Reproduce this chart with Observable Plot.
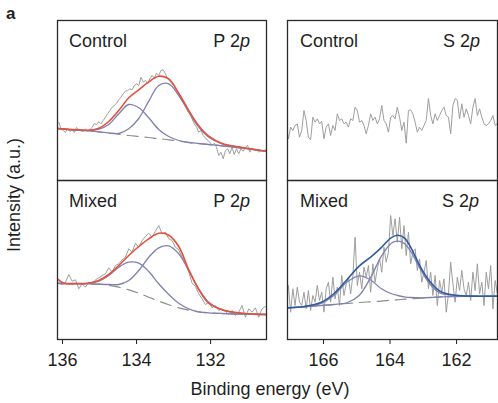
<!DOCTYPE html>
<html><head><meta charset="utf-8">
<script src="https://cdn.jsdelivr.net/npm/d3@7"></script>
<script src="https://cdn.jsdelivr.net/npm/@observablehq/plot@0.6"></script>
<style>
html,body{margin:0;padding:0;background:#fff;}
#fig{position:relative;width:498px;height:403px;overflow:hidden;}
#fig > svg{position:absolute;}
</style></head><body><div id="fig"></div>
<script>
// ---------- P 2p (left column) ----------
const pDomain = [136.135, 130.49];
const pTicks = [136, 134, 132];
// Control P 2p raw spectrum: start energy, step (eV), intensities (a.u.)
const pCtrlStart = 136.10, pCtrlStep = 0.06;
const pCtrlRaw = [58,52,50,48,52,49,51,48,53,51,49.5,49,51.7,49.3,51,53,57,56,59,56.7,
  60,63.3,66.7,70,73.3,75,77.3,80.7,83.3,86.7,89.3,90,91.7,90.7,95,96.7,95,103.3,98.3,100,
  96.7,101.7,105,102.7,107.3,105,110,110.7,106.7,101.7,99.3,96.7,94,90,86.7,83.3,78.3,76.7,70,66.7,
  61.7,56.7,53.3,48.3,50,45,42.7,40,38.3,35,37.3,33.3,25,28.3,21.7,30,31.7,26.7,33.3,26,
  31.7,26.7,31.7,29.3,33.3,35,28.3,32.7,30,30.7,28.3,30,29.3,30.7];
// Control P 2p fit
const pCtrlFitE = [136.19,135.74,135.29,135.02,134.75,134.48,134.21,133.94,133.67,133.40,133.13,132.86,132.59,132.32,132.05,131.69,131.14,130.51];
const pCtrlBg   = [52.3,50.7,49.7,48.7,47.3,46.3,45,44,43,41.7,40.7,39.3,38,37,36,34.7,32.3,29.3];
const pCtrlC1   = [52.3,50.7,50,51.3,56,66.7,76,72.7,62.7,51,44,40,38,37,36,34.7,32.3,29.3];
const pCtrlC2   = [52.3,50.7,49.7,48.7,47.7,47,51.7,62,79.3,95,96.7,85,68.3,53.3,43.3,36.7,32.7,29.3];
const pCtrlEnv  = [52.3,51,50.3,52.3,59,70,82.7,90.7,98.7,104.3,101.7,87.3,70,54.7,44.3,37,33,29.3];

// Mixed P 2p raw spectrum
const pMixStart = 136.10, pMixStep = 0.09;
const pMixRaw = [56.3,55,57.3,65,58.3,59.7,50.7,55.7,52.3,57.3,55,59.7,61.7,64,65.7,71.7,67.3,74,75.7,79.7,
  82.3,90.7,87.3,96.3,92.3,99,103,106.3,102.3,108.3,114,105.7,107.3,100.7,99,92.3,89.7,82.3,75.7,67.3,
  56.3,53,45.7,40.7,35,37.3,31.7,34,29,30.7,28.3,25,29,24,27.3,34,22.3,30.7,27.3,31.7,22.3,30.7,33];
// Mixed P 2p fit
const pMixFitE = [136.19,135.96,135.65,135.29,135.02,134.75,134.48,134.21,133.94,133.67,133.40,133.13,132.86,132.59,132.32,132.05,131.69,131.14,130.51];
const pMixBg   = [56.3,56,56,55.7,55.3,54.3,52.3,49.7,46.3,42.3,38.3,34.7,31.7,29.3,27.7,26.7,26,25.3,25];
const pMixC1   = [56.3,56,56,56.3,58.3,64,72.3,77.3,76.3,68,55.7,45,36.3,30.7,27.7,26.7,26,25.3,25];
const pMixC2   = [56.3,56,56,55.7,55.3,55,55,59,69,82.3,91.7,93.7,85.7,69,50.7,37.3,29.7,26,25];
const pMixEnv  = [62.3,56.3,55.7,56.3,59,65,74,84,93,100.7,106.3,104.3,93,69.7,50,36.3,29.7,26.3,25];

// ---------- S 2p (right column) ----------
const sDomain = [167.08, 160.77];
const sTicks = [166, 164, 162];
const sStart = 167.12, sStep = 0.0668;
const sCtrlRaw = [56.7,41.7,53.3,50,55,56.7,43.3,50,70,60,
  43.3,40.7,63.3,58.3,61.7,56.7,59.3,41.7,53.3,56.7,
  45,55,50,66.7,60,61.7,56.7,58.3,53.3,61.7,
  60,73.3,70,58.3,60,55,46.7,55,66.7,60,
  63.3,56.7,61.7,75,60,56.7,48.3,63.3,65,61.7,
  73.3,63.3,50,58.3,37.3,70,70.7,66.7,58.3,48.3,
  53.3,50,55,60,82,65,56.7,66.7,60,65,
  70,73.3,65,63.3,46.7,75,82,80,61.7,76.7,
  63.3,71.7,65,56.7,73.3,82,65,71.7,63.3,56.7,
  55,56.7,60,65,55,57];
const sMixRaw = [34,54,27.3,50.7,34,52.3,37.3,34,47.3,30.7,
  49,29,44,37.3,54,39,47.3,27.3,50.7,57.3,
  37.3,62.3,40.7,52.3,34,64,44,55.7,62.3,45.7,
  64,102.3,54,67.3,50.7,72.3,62.3,74,47.3,75.7,
  57.3,70.7,80.7,67.3,92.3,77.3,87.3,124,104,120.7,
  97.3,122.3,90.7,114,84,107.3,75.7,87.3,90.7,69,
  80.7,57.3,67.3,79,50.7,67.3,44,64,34,59,
  47.3,60.7,27.3,45.7,77.3,55.7,37.3,62.3,49,69,
  50.7,44,57.3,39,67.3,49,75.7,45.7,57.3,34,
  67.3,50.7,74,30.7,59,45.7];
const sMixFitE = [167.08,166.58,166.08,165.68,165.28,164.92,164.57,164.27,163.97,163.77,163.57,163.37,163.07,162.77,162.47,162.07,161.47,160.76];
const sMixBg   = [31.7,32.7,34,35,36,37,37.7,38.3,39.3,39.7,40.3,40.7,41.3,42,42.7,43,43.3,43.3];
const sMixC1   = [31.7,32.7,36,44.3,57.7,63.7,59.3,51,46,44,42.7,42,41.7,42,42.7,43,43.3,43.3];
const sMixC2   = [31.7,32.7,34,35,37,44.3,62.7,82.7,96,98.3,96,87.7,69.3,54.3,46,44.3,43.3,43.3];
const sMixEnv  = [31.7,33,37,46,60.3,73.7,82.7,91.7,101.7,104.3,101.7,91.7,71.7,56.7,47.7,44.3,43.3,43.3];

// ---------- styling ----------
const FONT = '"Liberation Sans", Arial, Helvetica, sans-serif';
const RAW = "#999999", COMP = "#8080b4", BGC = "#8c8c8c", RED = "#e4513b", BLUE = "#2f5b9c", INK = "#1f1f1f";

const rawTable = (start, step, vals) => vals.map((v, k) => ({e: start - k * step, i: v}));
const fitTable = (E, bg, c1, c2, env) => E.map((e, k) => ({e, bg: bg[k], c1: c1[k], c2: c2[k], env: env[k]}));

function panel({domain, ticks, raw, fit, envColor, axis, yMax, w}) {
  const marks = [Plot.line(raw, {x: "e", y: "i", stroke: RAW, strokeWidth: 0.95, clip: true})];
  if (fit) {
    const c = "catmull-rom";
    marks.push(
      Plot.line(fit, {x: "e", y: "bg", stroke: BGC, strokeWidth: 1.2, strokeDasharray: "11,7", curve: c, clip: true}),
      Plot.line(fit, {x: "e", y: "c1", stroke: COMP, strokeWidth: 1.3, curve: c, clip: true}),
      Plot.line(fit, {x: "e", y: "c2", stroke: COMP, strokeWidth: 1.3, curve: c, clip: true}),
      Plot.line(fit, {x: "e", y: "env", stroke: envColor, strokeWidth: 1.6, curve: c, clip: true})
    );
  }
  marks.push(Plot.frame({stroke: "#2a2a2a", strokeWidth: 1.3}));
  return Plot.plot({
    width: w, height: axis ? 196 : 162,
    marginLeft: 1, marginRight: 1, marginTop: 1, marginBottom: axis ? 36 : 1,
    x: {domain, ticks, tickSize: 5, tickPadding: 9, tickFormat: d => String(d), axis: axis ? "bottom" : null, label: null},
    y: {domain: [0, yMax], axis: null},
    style: {fontSize: "18px", fontFamily: FONT, color: INK, background: "transparent", overflow: "visible"},
    marks
  });
}

const fig = document.getElementById("fig");
function place(svg, left, top) { svg.style.left = left + "px"; svg.style.top = top + "px"; fig.appendChild(svg); }

place(panel({domain: pDomain, ticks: pTicks, raw: rawTable(pCtrlStart, pCtrlStep, pCtrlRaw),
  fit: fitTable(pCtrlFitE, pCtrlBg, pCtrlC1, pCtrlC2, pCtrlEnv), envColor: RED, axis: false, yMax: 160, w: 211}), 56, 19);
place(panel({domain: pDomain, ticks: pTicks, raw: rawTable(pMixStart, pMixStep, pMixRaw),
  fit: fitTable(pMixFitE, pMixBg, pMixC1, pMixC2, pMixEnv), envColor: RED, axis: true, yMax: 159, w: 211}), 56, 179);
place(panel({domain: sDomain, ticks: sTicks, raw: rawTable(sStart, sStep, sCtrlRaw),
  fit: null, axis: false, yMax: 160, w: 212}), 286, 19);
place(panel({domain: sDomain, ticks: sTicks, raw: rawTable(sStart, sStep, sMixRaw),
  fit: fitTable(sMixFitE, sMixBg, sMixC1, sMixC2, sMixEnv), envColor: BLUE, axis: true, yMax: 159, w: 212}), 286, 179);

// ---------- text overlay ----------
const ov = d3.create("svg").attr("width", 498).attr("height", 403)
  .style("left", "0px").style("top", "0px").style("pointer-events", "none")
  .attr("font-family", FONT).attr("font-size", 18).attr("fill", INK);
ov.append("text").attr("x", 6).attr("y", 19).attr("font-weight", "bold").attr("font-size", 17).text("a");
const panelLabels = [
  {x: 69, y: 47, t: "Control", r: 250, el: "P 2"},
  {x: 300, y: 47, t: "Control", r: 480, el: "S 2"},
  {x: 69, y: 207, t: "Mixed", r: 250, el: "P 2"},
  {x: 300, y: 207, t: "Mixed", r: 479, el: "S 2"}
];
for (const L of panelLabels) {
  ov.append("text").attr("x", L.x).attr("y", L.y).text(L.t);
  const t = ov.append("text").attr("x", L.r).attr("y", L.y).attr("text-anchor", "end");
  t.append("tspan").text(L.el);
  t.append("tspan").attr("font-style", "italic").text("p");
}
ov.append("text").attr("x", 270).attr("y", 395).attr("text-anchor", "middle").text("Binding energy (eV)");
ov.append("text").attr("transform", "translate(20,195) rotate(-90)").attr("text-anchor", "middle").text("Intensity (a.u.)");
fig.appendChild(ov.node());
</script></body></html>
